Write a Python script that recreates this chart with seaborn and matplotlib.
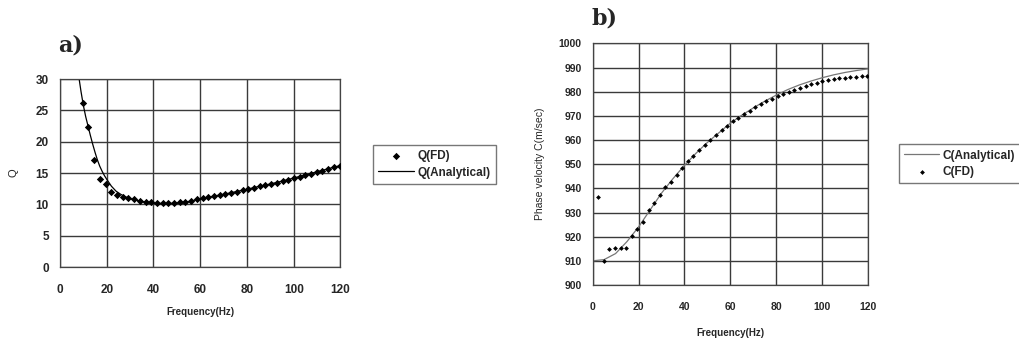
import matplotlib
matplotlib.use("Agg")
import matplotlib.pyplot as plt
import numpy as np
import pandas as pd
import seaborn as sns

# frequencies of the finite-difference results (Hz)
freq_fd = [2.4, 4.9, 7.3, 9.8, 12.2, 14.6, 17.1, 19.5, 22.0, 24.4, 26.9, 29.3, 31.7,
           34.2, 36.6, 39.1, 41.5, 43.9, 46.4, 48.8, 51.3, 53.7, 56.2, 58.6, 61.0,
           63.5, 65.9, 68.4, 70.8, 73.2, 75.7, 78.1, 80.6, 83.0, 85.4, 87.9, 90.3,
           92.8, 95.2, 97.7, 100.1, 102.5, 105.0, 107.4, 109.9, 112.3, 114.7, 117.2, 119.6]

# a) Q(FD), starts at the 4th frequency
q_fd = [26.1, 22.3, 17.0, 14.1, 13.2, 11.9, 11.5, 11.2, 11.0, 10.8, 10.6, 10.45,
        10.3, 10.2, 10.15, 10.15, 10.2, 10.3, 10.45, 10.6, 10.8, 11.0, 11.15, 11.3,
        11.5, 11.65, 11.85, 12.05, 12.25, 12.45, 12.65, 12.85, 13.05, 13.25, 13.45,
        13.7, 13.95, 14.2, 14.4, 14.65, 14.9, 15.15, 15.4, 15.65, 15.9, 16.15]

freq_qa = [8.2, 9, 10, 11, 12, 13, 14, 15, 16, 17, 18, 19, 20, 22, 24, 26, 28, 30,
           35, 40, 45, 50, 55, 60, 65, 70, 75, 80, 85, 90, 95, 100, 105, 110, 115, 120]
q_an = [30, 28, 25.8, 24, 22.5, 21, 19.6, 18.3, 17.1, 16.1, 15.3, 14.6, 14.0, 12.9,
        12.1, 11.6, 11.2, 10.9, 10.45, 10.2, 10.1, 10.2, 10.45, 10.85, 11.25, 11.6,
        12.0, 12.4, 12.85, 13.25, 13.7, 14.2, 14.7, 15.2, 15.7, 16.2]

# b) phase velocity
c_fd = [936.5, 910.0, 914.7, 915.2, 915.2, 915.2, 920.2, 923.0, 926.2, 931.0, 934.0,
        937.2, 940.4, 942.8, 945.5, 948.5, 951.5, 953.5, 955.8, 958.0, 960.0, 962.0,
        964.0, 966.0, 967.8, 969.3, 970.8, 972.2, 973.5, 974.8, 976.0, 977.2, 978.2,
        979.2, 980.0, 980.8, 981.6, 982.4, 983.1, 983.8, 984.4, 984.9, 985.3, 985.6,
        985.9, 986.1, 986.3, 986.4, 986.5]

freq_ca = [0, 5, 10, 15, 20, 25, 30, 35, 40, 45, 50, 55, 60, 65, 70, 75, 80, 85, 90,
           95, 100, 105, 110, 115, 120]
c_an = [910, 910.5, 913, 918, 924, 931, 938, 944, 949.5, 954.5, 959, 963, 967.0,
        970.3, 973.3, 976.1, 978.6, 980.9, 982.8, 984.4, 985.8, 987.0, 988.0, 988.8, 989.5]

df_qfd = pd.DataFrame({"f": freq_fd[3:], "v": q_fd})
df_qan = pd.DataFrame({"f": freq_qa, "v": q_an})
df_cfd = pd.DataFrame({"f": freq_fd, "v": c_fd})
df_can = pd.DataFrame({"f": freq_ca, "v": c_an})

sns.set_style("white")
plt.rcParams["font.family"] = ["Liberation Sans", "DejaVu Sans"]

fig = plt.figure(figsize=(10.2, 3.45), dpi=100)
ax1 = fig.add_axes([0.0588, 0.226, 0.275, 0.545])
ax2 = fig.add_axes([0.581, 0.174, 0.270, 0.700])

gridkw = dict(color="#3a3a3a", linewidth=1.0)
legkw = dict(loc="upper left", frameon=True, fancybox=False, edgecolor="#555555",
             handlelength=3.0, handletextpad=0.3, borderpad=0.45, labelspacing=0.35,
             prop={"weight": "bold", "size": 8.5})

# panel a
sns.scatterplot(data=df_qfd, x="f", y="v", ax=ax1, marker="D", s=14, color="black",
                edgecolor="black", linewidth=0, label="Q(FD)", zorder=3)
sns.lineplot(data=df_qan, x="f", y="v", ax=ax1, color="black", linewidth=0.9,
             label="Q(Analytical)", zorder=2)
ax1.set_xlim(0, 120)
ax1.set_ylim(0, 30)
ax1.set_xticks(range(0, 121, 20))
ax1.set_yticks(range(0, 31, 5))
ax1.grid(True, **gridkw)
ax1.set_xlabel("Frequency(Hz)", fontsize=7, fontweight="bold", labelpad=8)
ax1.set_ylabel("Q", fontsize=8, labelpad=12)
ax1.tick_params(axis="x", labelsize=8.5, pad=12, length=0)
ax1.tick_params(axis="y", labelsize=8.5, pad=8, length=0)
for t in ax1.get_xticklabels() + ax1.get_yticklabels():
    t.set_fontweight("bold")
ax1.legend(bbox_to_anchor=(1.095, 0.68), **legkw)

# panel b
sns.lineplot(data=df_can, x="f", y="v", ax=ax2, color="#777777", linewidth=0.9,
             label="C(Analytical)", zorder=2)
sns.scatterplot(data=df_cfd, x="f", y="v", ax=ax2, marker="D", s=6, color="black",
                edgecolor="black", linewidth=0, label="C(FD)", zorder=3)
ax2.set_xlim(0, 120)
ax2.set_ylim(900, 1000)
ax2.set_xticks(range(0, 121, 20))
ax2.set_yticks(range(900, 1001, 10))
ax2.grid(True, **gridkw)
ax2.set_xlabel("Frequency(Hz)", fontsize=7, fontweight="bold", labelpad=12)
ax2.set_ylabel("Phase velocity C(m/sec)", fontsize=7.5, labelpad=10)
ax2.tick_params(axis="x", labelsize=7.5, pad=12, length=0)
ax2.tick_params(axis="y", labelsize=7.5, pad=8, length=0)
for t in ax2.get_xticklabels() + ax2.get_yticklabels():
    t.set_fontweight("bold")
ax2.legend(bbox_to_anchor=(1.09, 0.607), **legkw)

for ax in (ax1, ax2):
    for s in ax.spines.values():
        s.set_color("#444444")
        s.set_linewidth(0.9)

fig.text(0.057, 0.85, "a)", fontsize=16, fontweight="bold", family="DejaVu Serif")
fig.text(0.58, 0.93, "b)", fontsize=16, fontweight="bold", family="DejaVu Serif")

fig.savefig("out.png", dpi=100)
